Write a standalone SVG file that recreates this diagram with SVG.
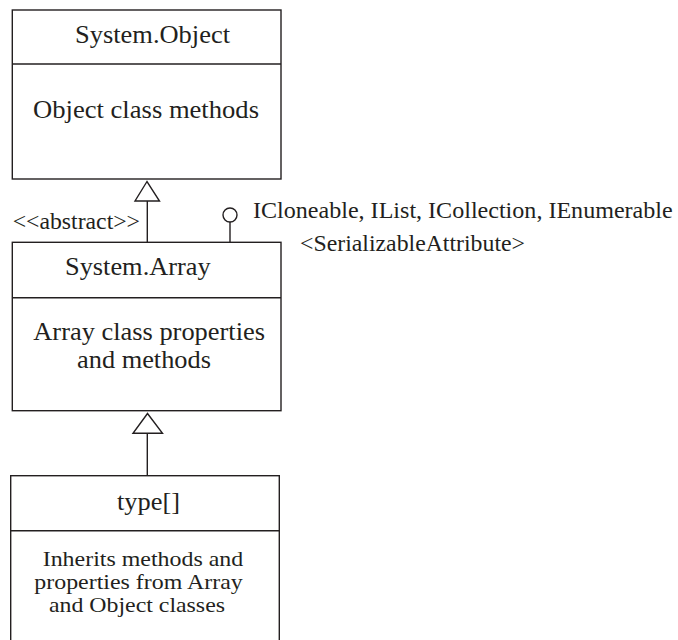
<svg xmlns="http://www.w3.org/2000/svg" width="678" height="640" viewBox="0 0 678 640">
<style>
.box{fill:#fff;stroke:#231f20;stroke-width:1.4}
.ln{fill:none;stroke:#231f20;stroke-width:1.4}
.tri{fill:#fff;stroke:#231f20;stroke-width:1.4}
text{font-family:"Liberation Serif","Times New Roman",serif;fill:#231f20}
.t26{font-size:26px}
.t24{font-size:24px}
.t23{font-size:21px}
</style>
<rect width="678" height="640" fill="#fff"/>
<g id="connectors">
<line class="ln" x1="147.3" y1="201" x2="147.3" y2="242.3"/>
<polygon class="tri" points="147,181.5 135,201 159.5,201"/>
<line class="ln" x1="147.3" y1="433.3" x2="147.3" y2="475.7"/>
<polygon class="tri" points="147.5,413.5 133,433.3 162.5,433.3"/>
<line class="ln" x1="230" y1="222" x2="230" y2="242.3"/>
<circle class="ln" cx="230" cy="215" r="7"/>
</g>
<g id="system-object">
<rect class="box" x="12.3" y="10" width="268.7" height="169"/>
<line class="ln" x1="12.3" y1="64" x2="281" y2="64"/>
<text class="t26" x="75" y="43" textLength="155" lengthAdjust="spacingAndGlyphs">System.Object</text>
<text class="t26" x="33" y="118.3" textLength="226" lengthAdjust="spacingAndGlyphs">Object class methods</text>
</g>
<g id="system-array">
<rect class="box" x="12.3" y="242.3" width="268.7" height="168.4"/>
<line class="ln" x1="12.3" y1="297.7" x2="281" y2="297.7"/>
<text class="t26" x="65" y="275" textLength="145.7" lengthAdjust="spacingAndGlyphs">System.Array</text>
<text class="t26" x="33.3" y="340" textLength="231.7" lengthAdjust="spacingAndGlyphs">Array class properties</text>
<text class="t26" x="77" y="368.3" textLength="134" lengthAdjust="spacingAndGlyphs">and methods</text>
</g>
<g id="type-array">
<rect class="box" x="10.7" y="475.7" width="268.6" height="180"/>
<line class="ln" x1="10.7" y1="530.7" x2="279.3" y2="530.7"/>
<text class="t26" x="117" y="510" textLength="63" lengthAdjust="spacingAndGlyphs">type[]</text>
<text class="t23" x="42.7" y="566" textLength="200.6" lengthAdjust="spacingAndGlyphs">Inherits methods and</text>
<text class="t23" x="34.3" y="589" textLength="208.4" lengthAdjust="spacingAndGlyphs">properties from Array</text>
<text class="t23" x="49" y="611.7" textLength="176" lengthAdjust="spacingAndGlyphs">and Object classes</text>
</g>
<g id="labels">
<text class="t24" x="12.7" y="229.3" textLength="127.3" lengthAdjust="spacingAndGlyphs">&lt;&lt;abstract&gt;&gt;</text>
<text class="t24" x="253" y="218" textLength="419.7" lengthAdjust="spacingAndGlyphs">ICloneable, IList, ICollection, IEnumerable</text>
<text class="t24" x="300" y="250.7" textLength="225" lengthAdjust="spacingAndGlyphs">&lt;SerializableAttribute&gt;</text>
</g>
</svg>
